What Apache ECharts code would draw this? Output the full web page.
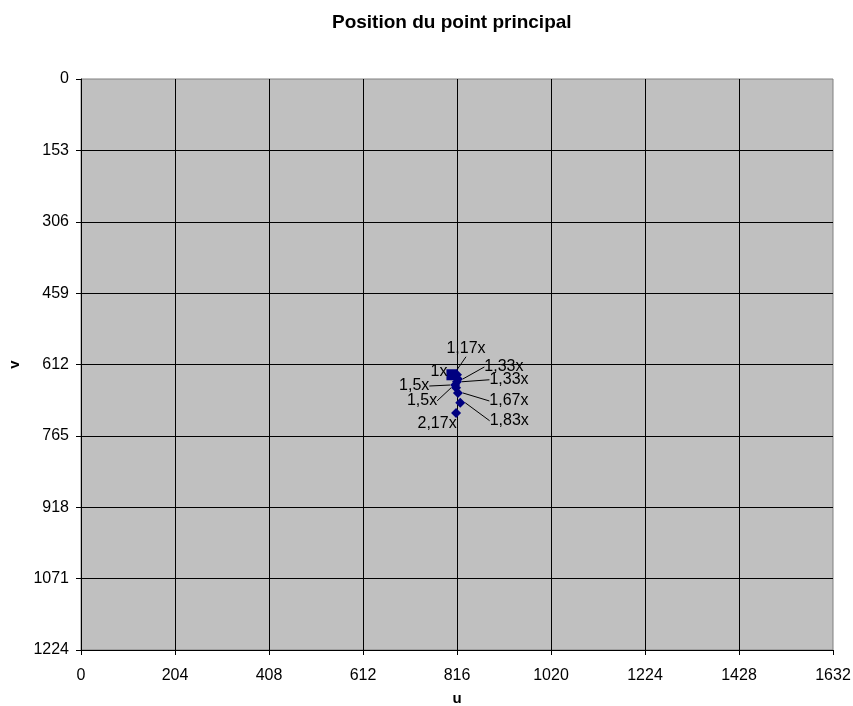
<!DOCTYPE html>
<html>
<head>
<meta charset="utf-8">
<title>Position du point principal</title>
<script src="https://cdn.jsdelivr.net/npm/echarts@6/dist/echarts.min.js"></script>
<style>
  html, body { margin: 0; padding: 0; background: #ffffff; }
  #chart { width: 853px; height: 706px; }
</style>
</head>
<body>
<div id="chart"></div>
<script>
// Principal point (u, v) for each zoom factor
const zoomLabels = ['1x', '1,17x', '1,33x', '1,33x', '1,5x', '1,5x', '1,67x', '1,83x', '2,17x'];
const uValues = [805, 816, 818, 816, 812, 814, 818, 823, 814];
const vValues = [634, 634, 643, 649, 656, 662, 673, 694, 716];

// Axis ticks
const uTicks = [0, 204, 408, 612, 816, 1020, 1224, 1428, 1632];
const vTicks = [0, 153, 306, 459, 612, 765, 918, 1071, 1224];

// Label offsets (px) from each marker, and whether a leader line is drawn
const labelDx = [-13, 9, 46, 52, -41, -34, 51, 49, -19];
const labelDy = [-3, -26, -12, -2, 1, 13, 8, 18, 11];
const labelLeader = [false, true, true, true, true, true, true, true, false];

const FONT = 'Liberation Sans, Arial, sans-serif';

const points = uValues.map((u, i) => ({
  value: [u, vValues[i], zoomLabels[i]],
  symbol: i === 0 ? 'rect' : 'diamond',
  symbolSize: i === 0 ? 11 : 10,
  labelLine: { show: labelLeader[i] }
}));

const plainNumber = v => String(v);

const chart = echarts.init(document.getElementById('chart'), null, { renderer: 'canvas' });

chart.setOption({
  animation: false,
  backgroundColor: '#ffffff',
  title: {
    text: 'Position du point principal',
    left: 327,
    top: 8,
    textStyle: { fontFamily: FONT, fontSize: 19, fontWeight: 'bold', color: '#000' }
  },
  grid: {
    left: 81, right: 20, top: 79, bottom: 56,
    containLabel: false,
    outerBoundsMode: 'none',
    show: true,
    backgroundColor: '#C0C0C0',
    borderColor: '#808080',
    borderWidth: 1
  },
  xAxis: {
    type: 'value',
    min: uTicks[0],
    max: uTicks[uTicks.length - 1],
    interval: uTicks[1] - uTicks[0],
    name: 'u',
    nameLocation: 'middle',
    nameGap: 41,
    nameTextStyle: { fontFamily: FONT, fontSize: 15, fontWeight: 'bold', color: '#000' },
    axisLine: { show: true, onZero: false, lineStyle: { color: '#000', width: 1 } },
    axisTick: { show: true, inside: false, length: 5, lineStyle: { color: '#000' } },
    axisLabel: { margin: 18, fontFamily: FONT, fontSize: 16, color: '#000', formatter: plainNumber },
    splitLine: { show: true, showMaxLine: false, lineStyle: { color: '#000', width: 1 } }
  },
  yAxis: {
    type: 'value',
    inverse: true,
    min: vTicks[0],
    max: vTicks[vTicks.length - 1],
    interval: vTicks[1] - vTicks[0],
    name: 'v',
    nameLocation: 'middle',
    nameGap: 57,
    nameRotate: 90,
    nameTextStyle: { fontFamily: FONT, fontSize: 15, fontWeight: 'bold', color: '#000' },
    axisLine: { show: true, onZero: false, lineStyle: { color: '#000', width: 1 } },
    axisTick: { show: true, inside: false, length: 5, lineStyle: { color: '#000' } },
    axisLabel: { margin: 12, fontFamily: FONT, fontSize: 16, color: '#000', formatter: plainNumber },
    splitLine: { show: true, showMinLine: false, lineStyle: { color: '#000', width: 1 } }
  },
  series: [{
    type: 'scatter',
    data: points,
    itemStyle: { color: '#000080', opacity: 1 },
    label: {
      show: true,
      position: 'inside',
      formatter: p => p.value[2],
      fontFamily: FONT,
      fontSize: 16,
      color: '#000'
    },
    labelLine: {
      show: true,
      lineStyle: { color: '#000', width: 1 }
    },
    labelLayout: p => ({ dx: labelDx[p.dataIndex], dy: labelDy[p.dataIndex] }),
    emphasis: { disabled: true }
  }]
});
</script>
</body>
</html>
